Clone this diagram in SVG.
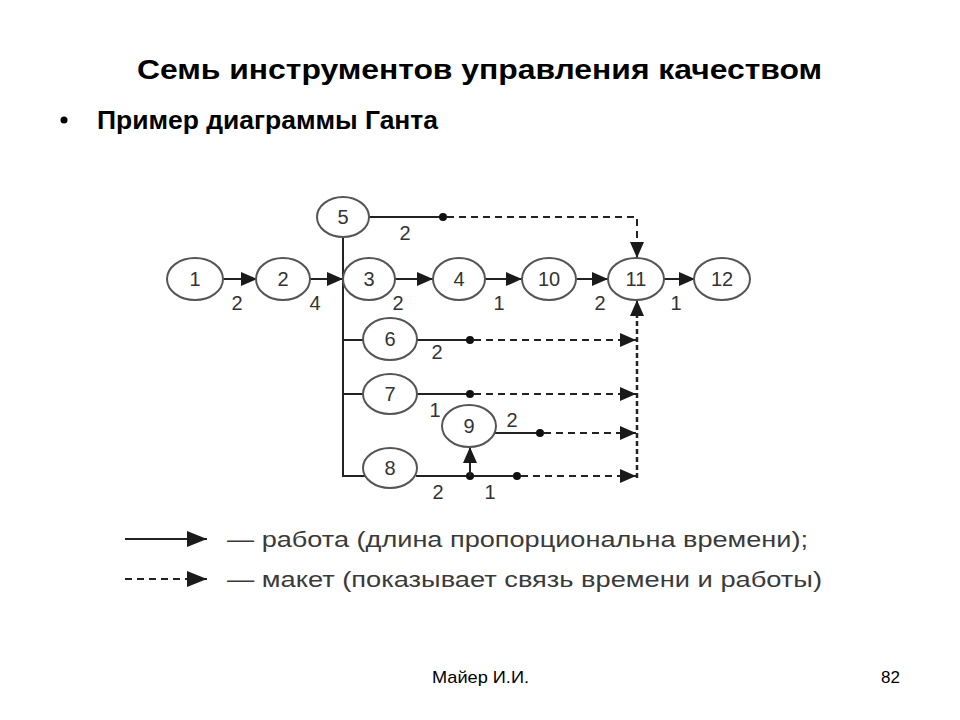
<svg xmlns="http://www.w3.org/2000/svg" width="960" height="720" viewBox="0 0 960 720">
<defs>
<marker id="ah" markerUnits="userSpaceOnUse" markerWidth="18" markerHeight="16" refX="16" refY="8" orient="auto">
<path d="M0,1 L16,8 L0,15 Z" fill="#1a1a1a"/>
</marker>
<marker id="ahL" markerUnits="userSpaceOnUse" markerWidth="22" markerHeight="18" refX="20" refY="9" orient="auto">
<path d="M0,1 L20,9 L0,17 Z" fill="#1a1a1a"/>
</marker>
<style>
.node ellipse{fill:#fff;stroke:#555;stroke-width:2}
.node text,.lbl{font-family:"Liberation Sans",Arial,sans-serif;font-size:20px;fill:#333;text-anchor:middle}
.sol{stroke:#222;stroke-width:2;fill:none}
.dash{stroke:#222;stroke-width:2;fill:none;stroke-dasharray:7 5}
.dashv{stroke:#222;stroke-width:2.5;fill:none;stroke-dasharray:5 3}
.dot{fill:#111}
.title{font-family:"Liberation Sans",Arial,sans-serif;font-weight:bold;fill:#000}
.leg{font-family:"Liberation Sans",Arial,sans-serif;font-size:22px;fill:#3a3a3a}
.foot{font-family:"Liberation Sans",Arial,sans-serif;font-size:17px;fill:#000}
</style>
</defs>
<rect width="960" height="720" fill="#fff"/>

<text class="title" x="137" y="79" font-size="27" textLength="685" lengthAdjust="spacingAndGlyphs">Семь инструментов управления качеством</text>
<circle cx="64" cy="120" r="3.5" fill="#000"/>
<text class="title" x="97" y="129" font-size="25" textLength="341" lengthAdjust="spacingAndGlyphs">Пример диаграммы Ганта</text>

<g id="connectors">
<line class="sol" x1="223" y1="279" x2="257" y2="279" marker-end="url(#ah)"/>
<line class="sol" x1="310" y1="279" x2="343" y2="279" marker-end="url(#ah)"/>
<line class="sol" x1="394" y1="279" x2="433" y2="279" marker-end="url(#ah)"/>
<line class="sol" x1="485" y1="279" x2="522" y2="279" marker-end="url(#ah)"/>
<line class="sol" x1="577" y1="279" x2="608" y2="279" marker-end="url(#ah)"/>
<line class="sol" x1="664" y1="279" x2="695" y2="279" marker-end="url(#ah)"/>
<line class="sol" x1="343" y1="237" x2="343" y2="477"/>
<line class="sol" x1="343" y1="340" x2="363" y2="340"/>
<line class="sol" x1="343" y1="394" x2="363" y2="394"/>
<line class="sol" x1="343" y1="476" x2="365" y2="476"/>
<line class="sol" x1="369" y1="217" x2="443" y2="217"/>
<circle class="dot" cx="443" cy="217" r="4"/>
<polyline class="dash" points="447,217 637,217 637,245"/>
<line class="sol" x1="637" y1="242" x2="637" y2="258" marker-end="url(#ah)"/>
<line class="sol" x1="417" y1="340" x2="470" y2="340"/>
<circle class="dot" cx="470" cy="340" r="4"/>
<line class="dash" x1="474" y1="340" x2="622" y2="340"/>
<line class="sol" x1="618" y1="340" x2="636" y2="340" marker-end="url(#ah)"/>
<line class="sol" x1="417" y1="394" x2="470" y2="394"/>
<circle class="dot" cx="470" cy="394" r="4"/>
<line class="dash" x1="474" y1="394" x2="622" y2="394"/>
<line class="sol" x1="618" y1="394" x2="636" y2="394" marker-end="url(#ah)"/>
<line class="sol" x1="495" y1="433" x2="540" y2="433"/>
<circle class="dot" cx="540" cy="433" r="4"/>
<line class="dash" x1="544" y1="433" x2="622" y2="433"/>
<line class="sol" x1="618" y1="433" x2="636" y2="433" marker-end="url(#ah)"/>
<line class="sol" x1="416" y1="476" x2="517" y2="476"/>
<circle class="dot" cx="470" cy="476" r="4"/>
<circle class="dot" cx="517" cy="476" r="4"/>
<line class="sol" x1="470" y1="476" x2="470" y2="447" marker-end="url(#ah)"/>
<line class="dash" x1="521" y1="476" x2="622" y2="476"/>
<line class="sol" x1="618" y1="476" x2="636" y2="476" marker-end="url(#ah)"/>
<line class="dashv" x1="637" y1="478" x2="637" y2="315"/>
<line class="sol" x1="637" y1="318" x2="637" y2="300" marker-end="url(#ah)"/>
</g>

<g id="edge-labels">
<text class="lbl" x="237" y="310">2</text>
<text class="lbl" x="315" y="310">4</text>
<text class="lbl" x="398" y="310">2</text>
<text class="lbl" x="499" y="310">1</text>
<text class="lbl" x="600" y="310">2</text>
<text class="lbl" x="676" y="310">1</text>
<text class="lbl" x="405" y="240">2</text>
<text class="lbl" x="437" y="359">2</text>
<text class="lbl" x="435" y="417">1</text>
<text class="lbl" x="512" y="427">2</text>
<text class="lbl" x="438" y="499">2</text>
<text class="lbl" x="490" y="499">1</text>
</g>

<g id="n1" class="node"><ellipse cx="195" cy="279" rx="28" ry="21"/><text x="195" y="286">1</text></g>
<g id="n2" class="node"><ellipse cx="283" cy="279" rx="27" ry="21"/><text x="283" y="286">2</text></g>
<g id="n3" class="node"><ellipse cx="369" cy="279" rx="26" ry="21"/><text x="369" y="286">3</text></g>
<g id="n4" class="node"><ellipse cx="459" cy="279" rx="26" ry="21"/><text x="459" y="286">4</text></g>
<g id="n5" class="node"><ellipse cx="343" cy="217" rx="26" ry="20"/><text x="343" y="224">5</text></g>
<g id="n6" class="node"><ellipse cx="390" cy="339" rx="27" ry="21"/><text x="390" y="346">6</text></g>
<g id="n7" class="node"><ellipse cx="390" cy="394" rx="27" ry="20"/><text x="390" y="401">7</text></g>
<g id="n8" class="node"><ellipse cx="390" cy="468" rx="27" ry="20"/><text x="390" y="475">8</text></g>
<g id="n9" class="node"><ellipse cx="469" cy="426" rx="27" ry="21"/><text x="469" y="433">9</text></g>
<g id="n10" class="node"><ellipse cx="549" cy="279" rx="27" ry="21"/><text x="549" y="286">10</text></g>
<g id="n11" class="node"><ellipse cx="636" cy="279" rx="28" ry="21"/><text x="636" y="286">11</text></g>
<g id="n12" class="node"><ellipse cx="722" cy="279" rx="28" ry="21"/><text x="722" y="286">12</text></g>

<g id="legend">
<line class="sol" x1="125" y1="539" x2="207" y2="539" marker-end="url(#ahL)"/>
<text class="leg" x="227" y="547" textLength="581" lengthAdjust="spacingAndGlyphs">— работа (длина пропорциональна времени);</text>
<line class="dash" x1="125" y1="579" x2="190" y2="579" stroke-dasharray="6 5"/>
<line class="sol" x1="188" y1="579" x2="207" y2="579" marker-end="url(#ahL)"/>
<text class="leg" x="227" y="587" textLength="595" lengthAdjust="spacingAndGlyphs">— макет (показывает связь времени и работы)</text>
</g>

<text class="foot" x="432" y="683" textLength="97" lengthAdjust="spacingAndGlyphs">Майер И.И.</text>
<text class="foot" x="900" y="683" text-anchor="end">82</text>
</svg>
